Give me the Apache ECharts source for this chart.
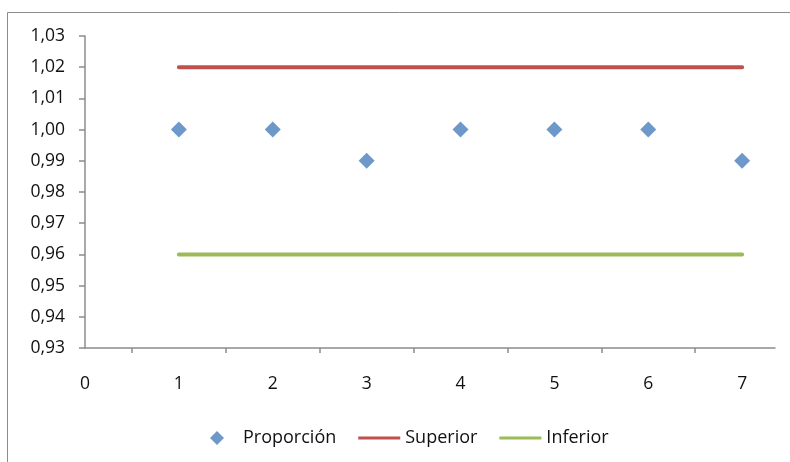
<!DOCTYPE html>
<html>
<head>
<meta charset="utf-8">
<script src="https://cdn.jsdelivr.net/npm/echarts@6/dist/echarts.min.js"></script>
<style>
  html, body { margin: 0; padding: 0; background: #fff; }
  #chart { width: 790px; height: 462px; }
</style>
</head>
<body>
<div id="chart"></div>
<script>
// data
const xs = [1, 2, 3, 4, 5, 6, 7];
const proporcion = [1.00, 1.00, 0.99, 1.00, 1.00, 1.00, 0.99];
const superior = [1.02, 1.02, 1.02, 1.02, 1.02, 1.02, 1.02];
const inferior = [0.96, 0.96, 0.96, 0.96, 0.96, 0.96, 0.96];
const xTickLabels = [0, 1, 2, 3, 4, 5, 6, 7];
const xTickMarks = [0.5, 1.5, 2.5, 3.5, 4.5, 5.5, 6.5];

const pair = (ys) => xs.map((x, i) => [x, ys[i]]);

const chart = echarts.init(document.getElementById('chart'));
const font = '"Open Sans", "Liberation Sans", sans-serif';
const lineIcon = 'path://M0,0H40V3H0Z';

const option = {
    animation: false,
    textStyle: { fontFamily: font },
    graphic: [{
        type: 'rect',
        shape: { x: 7.5, y: 12.5, width: 800, height: 470 },
        style: { fill: 'none', stroke: '#8c8c8c', lineWidth: 1 },
        silent: true
    }],
    grid: { left: 85, right: 15, top: 36, bottom: 114 },
    legend: {
        bottom: 10,
        left: 205,
        itemWidth: 42,
        itemHeight: 14,
        itemGap: 22,
        symbolKeepAspect: true,
        textStyle: { fontSize: 18, color: '#111', fontFamily: font },
        data: [
            { name: 'Proporción', icon: 'path://M7,0L14,7L7,14L0,7Z' },
            { name: 'Superior', icon: lineIcon },
            { name: 'Inferior', icon: lineIcon }
        ]
    },
    xAxis: {
        type: 'value',
        min: 0,
        max: 7.35,
        interval: 1,
        splitLine: { show: false },
        axisLine: { lineStyle: { color: '#8c8c8c', width: 1.5 } },
        axisTick: {
            show: true,
            length: 5,
            customValues: xTickMarks,
            lineStyle: { color: '#8c8c8c', width: 1.5 }
        },
        axisLabel: {
            customValues: xTickLabels,
            fontSize: 17.5,
            color: '#111',
            margin: 27
        }
    },
    yAxis: {
        type: 'value',
        min: 0.93,
        max: 1.03,
        interval: 0.01,
        splitLine: { show: false },
        axisLine: { show: true, lineStyle: { color: '#8c8c8c', width: 1.5 } },
        axisTick: { show: true, length: 6, lineStyle: { color: '#8c8c8c', width: 1.5 } },
        axisLabel: {
            fontSize: 17.5,
            color: '#111',
            margin: 20,
            formatter: (v) => v.toFixed(2).replace('.', ',')
        }
    },
    series: [
        {
            name: 'Proporción',
            type: 'scatter',
            symbol: 'diamond',
            symbolSize: 16,
            itemStyle: { color: '#4a7ebb' },
            data: pair(proporcion),
            z: 3
        },
        {
            name: 'Superior',
            type: 'line',
            symbol: 'none',
            lineStyle: { color: '#c0504d', width: 4, cap: 'round' },
            itemStyle: { color: '#c0504d' },
            data: pair(superior)
        },
        {
            name: 'Inferior',
            type: 'line',
            symbol: 'none',
            lineStyle: { color: '#9bbb59', width: 4, cap: 'round' },
            itemStyle: { color: '#9bbb59' },
            data: pair(inferior)
        }
    ]
};
chart.setOption(option);
</script>
</body>
</html>
